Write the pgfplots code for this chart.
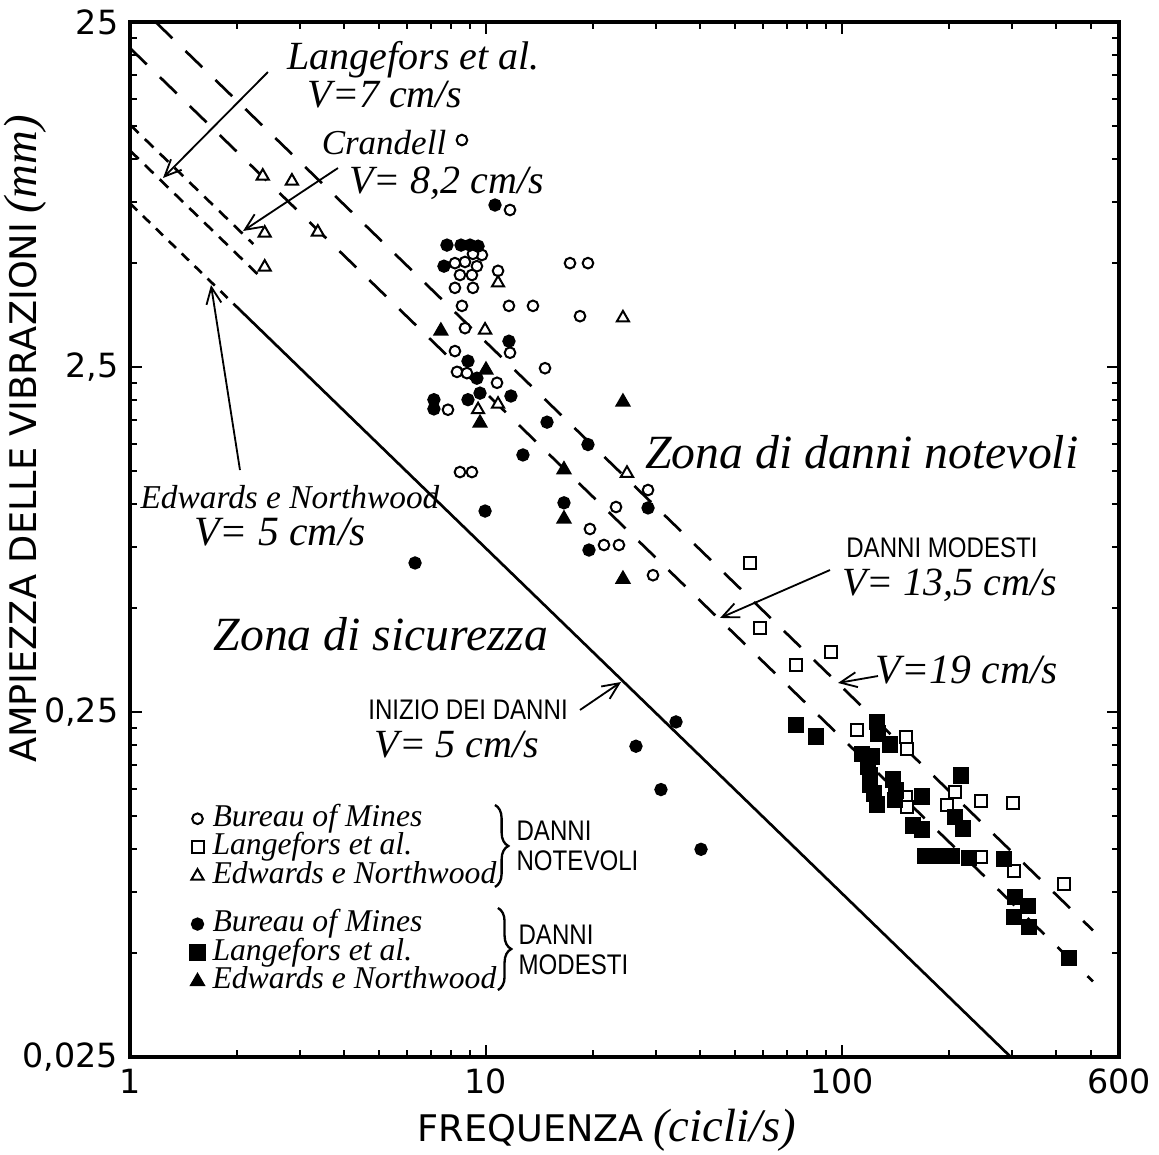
\documentclass[border=0pt]{standalone}
\usepackage{fontspec}
\setmainfont{Liberation Serif}
\newfontfamily\dvs{DejaVu Sans}
\newfontfamily\din[FakeStretch=0.85]{Liberation Sans}
\usepackage{pgfplots}
\pgfplotsset{compat=1.18}
\usetikzlibrary{decorations.pathreplacing,arrows.meta}
\pgfplotsset{
  mk/.style={only marks, line width=0.6pt,
    legend image code/.code={\draw[mark repeat=2,mark phase=2,##1] plot coordinates {(0cm,0cm) (0.1cm,0cm) (0.2cm,0cm)};}},
}
\tikzset{ann/.style={line width=0.55pt,-{Straight Barb[length=5pt,width=4.5pt]}}}
\begin{document}
\begin{tikzpicture}
\begin{axis}[
  scale only axis, width=296.7pt, height=310.5pt,
  xmode=log, ymode=log,
  xmin=1, xmax=600, ymin=0.025, ymax=25,
  axis line style={line width=1.2pt},
  xtick={1,10,100,600}, xticklabels={1,10,100,600},
  ytick={0.025,0.25,2.5,25}, yticklabels={{0,025},{0,25},{2,5},{25}},
  minor xtick={2,3,4,5,6,7,8,9,20,30,40,50,60,70,80,90,200,300,400,500},
  minor ytick={0.05,0.075,0.1,0.125,0.15,0.175,0.2,0.225,0.5,0.75,1,1.25,1.5,1.75,2,2.25,5,7.5,10,12.5,15,17.5,20,22.5},
  tick align=inside,
  major tick length=3.5pt, minor tick length=2.2pt,
  tick style={black, line width=0.6pt},
  ticklabel style={font=\dvs\fontsize{10}{12}\selectfont},
  xlabel={{\dvs FREQUENZA} {\itshape\fontsize{14}{14}\selectfont (cicli/s)}},
  ylabel={{\dvs AMPIEZZA DELLE VIBRAZIONI} {\itshape\fontsize{14}{14}\selectfont (mm)}},
  label style={font=\fontsize{11}{12}\selectfont},
  xlabel style={at={(axis description cs:0.482,-0.0705)}, anchor=center},
  ylabel style={at={(axis description cs:-0.106,0.597)}, anchor=center},
  legend cell align=left,
  legend style={at={(axis description cs:0.058,0.2447)}, anchor=north west, draw=none, fill=none,
    inner sep=0pt, font=\itshape\fontsize{9.5}{10}\selectfont, row sep=0pt,
    nodes={inner sep=0.3pt, text height=6.2pt, text depth=1.8pt},
    /tikz/every odd column/.append style={column sep=2pt},
    /tikz/row 4/.style={nodes={text height=5.2pt, text depth=0pt}}},
]
% velocity lines
\addplot[forget plot, line width=0.8pt, dash pattern=on 7pt off 5.5pt] coordinates {(1.18,25) (507,0.0582)};
\addplot[forget plot, line width=0.8pt, dash pattern=on 7pt off 5.5pt] coordinates {(1,21) (507,0.0414)};
\addplot[forget plot, line width=0.8pt] coordinates {(2.04,3.652) (298,0.025)};
\addplot[forget plot, line width=0.8pt, dash pattern=on 3pt off 2.4pt] coordinates {(1,7.45) (2.04,3.652)};
\addplot[forget plot, line width=0.8pt, dash pattern=on 3.6pt off 2.6pt] coordinates {(1,10.6) (2.3,4.61)};
\addplot[forget plot, line width=0.8pt, dash pattern=on 3.6pt off 2.6pt] coordinates {(1,12.6) (2.22,5.68)};

% DANNI NOTEVOLI
\addplot[mk, mark=*, mark size=1.6pt, mark options={fill=white}] coordinates {
(8.56,11.37) (11.68,7.13) (9.74,5.28) (9.19,5.32) (8.73,5.04) (8.18,5.00) (9.43,4.90)
(8.45,4.62) (9.13,4.62) (8.18,4.24) (9.19,4.24) (10.81,4.75) (17.22,5.00) (19.34,5.00)
(8.56,3.76) (11.60,3.76) (13.55,3.76) (18.37,3.51) (8.73,3.24) (11.68,2.75) (8.18,2.78)
(8.29,2.42) (8.84,2.40) (14.65,2.48) (10.74,2.25) (7.82,1.88) (8.45,1.24) (9.13,1.24)
(28.52,1.10) (23.19,0.982) (19.59,0.848) (21.45,0.762) (23.63,0.762) (29.45,0.623)};
\addlegendentry{Bureau of Mines}
\addplot[mk, mark=square*, mark size=1.8pt, mark options={fill=white}] coordinates {
(55.17,0.676) (58.85,0.438) (74.27,0.342) (93.14,0.373) (110.2,0.222) (151.3,0.212)
(152.3,0.195) (151.3,0.142) (152.3,0.133) (207.7,0.147) (197.2,0.134) (245.7,0.138)
(302.2,0.136) (245.7,0.0950) (304.1,0.0865) (420.3,0.0793)};
\addlegendentry{Langefors et al.}
\addplot[mk, mark=triangle*, mark size=2.1pt, mark options={fill=white}] coordinates {
(2.36,8.94) (2.85,8.65) (2.39,6.11) (3.37,6.15) (2.39,4.87) (10.81,4.38) (24.25,3.47)
(9.94,3.20) (10.81,1.95) (9.50,1.88) (24.89,1.23)};
\addlegendentry{Edwards e Northwood}
\addlegendimage{empty legend}\addlegendentry{}
% DANNI MODESTI
\addplot[mk, mark=*, mark size=1.7pt, mark options={fill=black}] coordinates {
(10.60,7.37) (7.77,5.64) (8.51,5.64) (9.02,5.64) (9.50,5.60) (7.62,4.90) (11.60,2.97)
(8.90,2.60) (9.43,2.32) (9.62,2.10) (8.90,2.01) (11.75,2.06) (7.14,2.01) (7.14,1.89)
(14.84,1.73) (19.34,1.49) (12.70,1.39) (9.94,0.956) (16.56,1.01) (28.52,0.976)
(19.47,0.737) (6.32,0.676) (34.18,0.234) (26.38,0.199) (31.01,0.149) (40.18,0.100)};
\addlegendentry{Bureau of Mines}
\addplot[mk, mark=square*, mark size=2.2pt, mark options={fill=black}] coordinates {
(74.27,0.229) (84.53,0.212) (125.4,0.234) (126.2,0.217) (136.4,0.201) (113.8,0.189)
(121.4,0.186) (118.3,0.174) (119.9,0.164) (119.9,0.154) (123.0,0.145) (125.4,0.135)
(139.1,0.159) (141.8,0.148) (140.9,0.139) (167.8,0.142) (215.9,0.164) (158.3,0.117)
(167.8,0.114) (207.7,0.124) (218.7,0.115) (171.1,0.0956) (186.1,0.0956) (203.7,0.0956)
(227.3,0.0944) (285.1,0.0937) (306.2,0.0727) (333.1,0.0685) (304.1,0.0637)
(335.2,0.0595) (434.1,0.0484)};
\addlegendentry{Langefors et al.}
\addplot[mk, mark=triangle*, mark size=2.2pt, mark options={fill=black}] coordinates {
(7.47,3.18) (10.0,2.45) (9.62,1.72) (24.25,1.98) (16.56,1.26) (16.56,0.907) (24.25,0.607)};
\addlegendentry{Edwards e Northwood}

% braces
\draw[decorate, decoration={brace, amplitude=4pt}, line width=0.7pt] (rel axis cs:0.369,0.2435) -- (rel axis cs:0.369,0.1643);
\draw[decorate, decoration={brace, amplitude=4pt}, line width=0.7pt] (rel axis cs:0.372,0.144) -- (rel axis cs:0.372,0.0647);
\node[font=\din\fontsize{8.5}{9}\selectfont, anchor=west, align=left] at (rel axis cs:0.379,0.2039) {DANNI\\NOTEVOLI};
\node[font=\din\fontsize{8.5}{9}\selectfont, anchor=west, align=left] at (rel axis cs:0.381,0.1034) {DANNI\\MODESTI};

% zone labels
\node[font=\itshape\fontsize{14.3}{16}\selectfont] at (rel axis cs:0.740,0.5845) {Zona di danni notevoli};
\node[font=\itshape\fontsize{14.3}{16}\selectfont] at (rel axis cs:0.2538,0.4087) {Zona di sicurezza};

% Langefors
\node[font=\itshape\fontsize{12}{14}\selectfont] at (rel axis cs:0.287,0.9640) {Langefors et al.};
\node[font=\itshape\fontsize{12}{14}\selectfont] at (rel axis cs:0.258,0.9300) {V=7 cm/s};
\draw[ann] (rel axis cs:0.1395,0.9517) -- (rel axis cs:0.0334,0.8493);
% Crandell
\node[font=\itshape\fontsize{10.5}{13}\selectfont, anchor=west] at (rel axis cs:0.182,0.8840) {Crandell};
\node[font=\itshape\fontsize{12}{14}\selectfont, anchor=west] at (rel axis cs:0.210,0.8440) {V= 8,2 cm/s};
\draw[ann] (rel axis cs:0.2103,0.8589) -- (rel axis cs:0.1143,0.7981);
% Edwards
\node[font=\itshape\fontsize{10}{12}\selectfont] at (rel axis cs:0.1618,0.5411) {Edwards e Northwood};
\node[font=\itshape\fontsize{12.5}{14}\selectfont] at (rel axis cs:0.1517,0.5072) {V= 5 cm/s};
\draw[ann] (rel axis cs:0.1112,0.5671) -- (rel axis cs:0.0819,0.7459);
% Danni modesti
\node[font=\din\fontsize{8.5}{10}\selectfont] at (rel axis cs:0.821,0.4920) {DANNI MODESTI};
\node[font=\itshape\fontsize{12}{14}\selectfont] at (rel axis cs:0.829,0.4560) {V= 13,5 cm/s};
\draw[ann] (rel axis cs:0.7078,0.4705) -- (rel axis cs:0.5966,0.4242);
% V=19
\node[font=\itshape\fontsize{12.5}{14}\selectfont] at (rel axis cs:0.8463,0.3739) {V=19 cm/s};
\draw[ann] (rel axis cs:0.7563,0.3681) -- (rel axis cs:0.7159,0.3614);
% Inizio dei danni
\node[font=\din\fontsize{8.5}{10}\selectfont] at (rel axis cs:0.3418,0.3353) {INIZIO DEI DANNI};
\node[font=\itshape\fontsize{12}{14}\selectfont] at (rel axis cs:0.3306,0.3014) {V= 5 cm/s};
\draw[ann] (rel axis cs:0.455,0.3353) -- (rel axis cs:0.4965,0.3623);
\end{axis}
\pgfresetboundingbox
\path[use as bounding box] ([xshift=-39pt,yshift=-29.1pt]current axis.south west) rectangle ([xshift=12pt,yshift=6.6pt]current axis.north east);
\end{tikzpicture}
\end{document}
